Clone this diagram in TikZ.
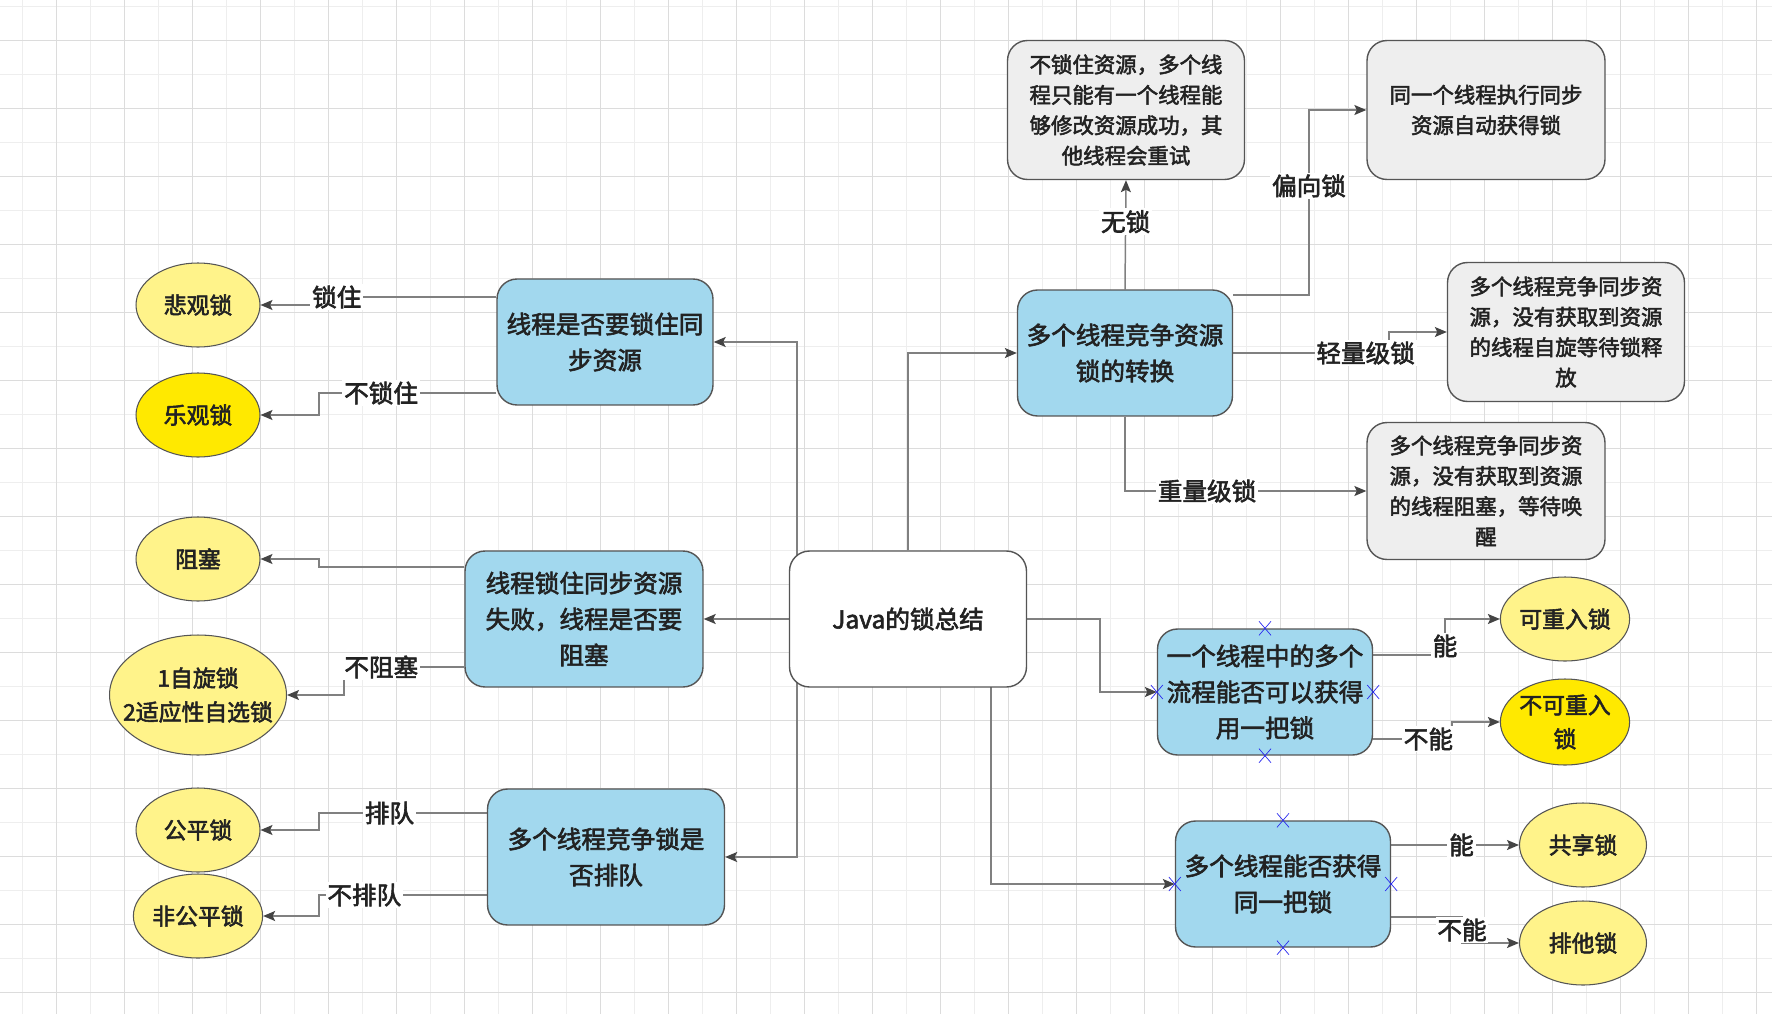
\documentclass[tikz,border=0pt]{standalone}
\usepackage{fontspec}
\setmainfont{Noto Sans CJK SC}[FakeBold=2.4]
\usetikzlibrary{shapes.geometric,arrows.meta,backgrounds}
\definecolor{boxblue}{HTML}{A2D8EE}
\definecolor{boxgray}{HTML}{EEEEEE}
\definecolor{paleyellow}{HTML}{FFF38A}
\definecolor{brightyellow}{HTML}{FFE900}
\definecolor{linegray}{HTML}{808080}
\definecolor{edgegray}{HTML}{555555}
\definecolor{tipgray}{HTML}{444444}
\definecolor{inkgray}{HTML}{222222}
\definecolor{gridminor}{HTML}{EEEEEE}
\definecolor{gridmajor}{HTML}{DCDCDC}
\definecolor{markblue}{HTML}{2A2AF0}
\tikzset{
  qbox/.style={draw=edgegray, line width=0.8pt, rounded corners=0.4cm, fill=boxblue,
    align=center, inner sep=0pt, text=inkgray, font=\fontsize{14}{20.5}\selectfont},
  note/.style={qbox, fill=boxgray, font=\fontsize{12.2}{17.3}\selectfont},
  kind/.style={ellipse, draw=edgegray, line width=0.6pt, fill=paleyellow, inner sep=0pt,
    align=center, minimum width=2.48cm, minimum height=1.68cm, text=inkgray,
    font=\fontsize{13}{19.3}\selectfont},
  link/.style={draw=linegray, line width=0.85pt,
    -{Stealth[length=0.24cm, width=0.2cm, inset=0.05cm, color=tipgray]}},
  lbl/.style={fill=white, inner sep=1pt, text=inkgray, font=\fontsize{14}{16}\selectfont},
  xmark/.style={draw=markblue, line width=0.4pt}
}

\begin{document}
\begin{tikzpicture}[x=0.02cm, y=-0.02cm]
  \useasboundingbox (0,0) rectangle (1772,1014);

  % left column
  \node[kind] (pess) at (198,305) {悲观锁};
  \node[kind, fill=brightyellow] (opt) at (198,415) {乐观锁};
  \node[kind] (block) at (198,559) {阻塞};
  \node[kind, inner xsep=-0.4cm, minimum width=3.54cm, minimum height=2.4cm] (spin) at (198,695) {1自旋锁\\2适应性自选锁};
  \node[kind] (fair) at (198,830) {公平锁};
  \node[kind] (unfair) at (198,916) {非公平锁};

  \node[qbox, minimum width=4.32cm, minimum height=2.52cm] (lockq) at (605,342) {线程是否要锁住同\\步资源};
  \node[qbox, minimum width=4.76cm, minimum height=2.72cm] (blockq) at (584,619) {线程锁住同步资源\\失败，线程是否要\\阻塞};
  \node[qbox, minimum width=4.74cm, minimum height=2.72cm] (queueq) at (606,857) {多个线程竞争锁是\\否排队};

  % root
  \node[qbox, fill=white, minimum width=4.74cm, minimum height=2.72cm] (java) at (908,619) {Java的锁总结};

  % right side
  \node[qbox, minimum width=4.3cm, minimum height=2.52cm] (convq) at (1125,353) {多个线程竞争资源\\锁的转换};
  \node[qbox, minimum width=4.3cm, minimum height=2.52cm] (reentq) at (1265,692) {一个线程中的多个\\流程能否可以获得\\用一把锁};
  \node[qbox, minimum width=4.3cm, minimum height=2.52cm] (shareq) at (1283,884) {多个线程能否获得\\同一把锁};

  \node[note, minimum width=4.74cm, minimum height=2.78cm] (nolock) at (1126,110) {不锁住资源，多个线\\程只能有一个线程能\\够修改资源成功，其\\他线程会重试};
  \node[note, minimum width=4.76cm, minimum height=2.78cm] (biased) at (1486,110) {同一个线程执行同步\\资源自动获得锁};
  \node[note, minimum width=4.74cm, minimum height=2.78cm] (light) at (1566,332) {多个线程竞争同步资\\源，没有获取到资源\\的线程自旋等待锁释\\放};
  \node[note, minimum width=4.76cm, minimum height=2.74cm] (heavy) at (1486,491) {多个线程竞争同步资\\源，没有获取到资源\\的线程阻塞，等待唤\\醒};

  \node[kind, minimum width=2.5cm] (re) at (1565,619) {可重入锁};
  \node[kind, fill=brightyellow, minimum width=2.5cm, minimum height=1.72cm] (nonre) at (1565,722) {不可重入\\锁};
  \node[kind, minimum width=2.54cm] (shared) at (1583,845) {共享锁};
  \node[kind, minimum width=2.54cm] (excl) at (1583,943) {排他锁};

  % selected connection points
  \foreach \n in {reentq,shareq}
    \foreach \a in {north,south,east,west}
      \draw[xmark] (\n.\a) +(-6,-7) -- +(6,7) +(-6,7) -- +(6,-7);

  \begin{pgfonlayer}{background}
    \fill[white] (0,0) rectangle (1772,1014);
    \foreach \gx in {22.7,90.7,...,1772}
      \draw[gridminor, line width=0.6pt] (\gx,0) -- (\gx,1014);
    \foreach \gy in {6.7,74.7,...,1014}
      \draw[gridminor, line width=0.6pt] (0,\gy) -- (1772,\gy);
    \foreach \gx in {56.7,124.7,...,1772}
      \draw[gridmajor, line width=0.6pt] (\gx,0) -- (\gx,1014);
    \foreach \gy in {40.7,108.7,...,1014}
      \draw[gridmajor, line width=0.6pt] (0,\gy) -- (1772,\gy);

    % root to the branches
    \draw[link] (797,619) |- (lockq.east);
    \draw[link] (java.west) -- (blockq.east);
    \draw[link] (797,619) |- (queueq.east);
    \draw[link] (java.north) |- (convq.west);
    \draw[link] (java.east) -- (1100,619) |- (reentq.west);
    \draw[link] (991,619) |- (shareq.west);

    % left branches
    \draw[link] (lockq.west |- 0,297) -- node[lbl, pos=0.9] {锁住} (319,297) |- (pess.east);
    \draw[link] (lockq.west |- 0,393) -- node[lbl, pos=0.65] {不锁住} (319,393) |- (opt.east);
    \draw[link] (blockq.west |- 0,567) -- (319,567) |- (block.east);
    \draw[link] (blockq.west |- 0,667) -- node[lbl, pos=0.69] {不阻塞} (344,667) |- (spin.east);
    \draw[link] (queueq.west |- 0,813) -- node[lbl, pos=0.58] {排队} (319,813) |- (fair.east);
    \draw[link] (queueq.west |- 0,895) -- node[lbl, pos=0.73] {不排队} (319,895) |- (unfair.east);

    % lock states
    \draw[link] (convq.north) -- node[lbl, pos=0.62] {无锁} (nolock.south);
    \draw[link] (convq.east |- 0,295) -- (1309,295) -- node[lbl, pos=0.59] {偏向锁} (1309,110) -- (biased.west);
    \draw[link] (convq.east) -- node[lbl, pos=0.85] {轻量级锁} (1389,353) |- (light.west);
    \draw[link] (convq.south) |- node[lbl, pos=0.67] {重量级锁} (heavy.west);

    % reentrant / shared
    \draw[link] (reentq.east |- 0,655) -- (1445,655) -- node[lbl, pos=0.25] {能} (1445,619) -- (re.west);
    \draw[link] (reentq.east |- 0,739) -- node[lbl, pos=0.7] {不能} (1452,739) |- (nonre.west);
    \draw[link] (shareq.east |- 0,845) -- node[lbl, pos=0.55] {能} (shared.west);
    \draw[link] (shareq.east |- 0,917) -- (1462,917) -- node[lbl] {不能} (1462,943) -- (excl.west);
  \end{pgfonlayer}
\end{tikzpicture}
\end{document}
